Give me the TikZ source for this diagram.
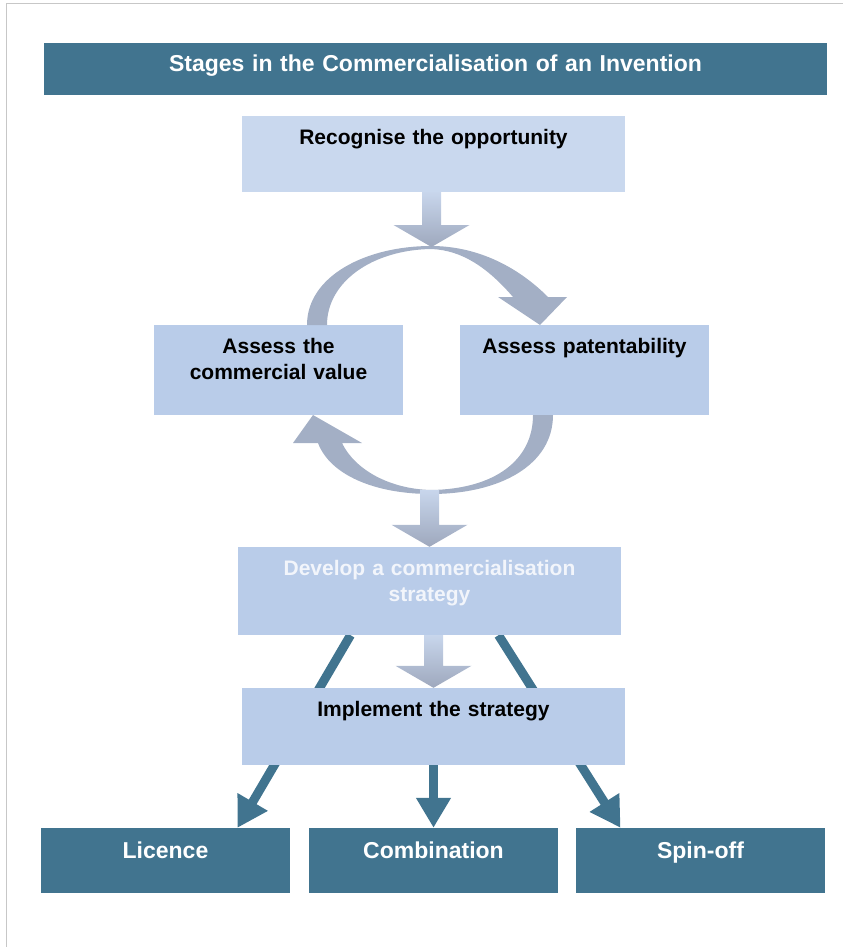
\documentclass[tikz,border=0pt]{standalone}
\usepackage{fontspec}
\setsansfont{Liberation Sans}
\usepackage{tikz}
\definecolor{stagedark}{RGB}{65,116,143}
\definecolor{stagepale}{RGB}{201,216,238}
\definecolor{stagelight}{RGB}{185,204,233}
\definecolor{stagetext}{RGB}{242,245,251}
\definecolor{flowtop}{RGB}{200,214,236}
\definecolor{flowbot}{RGB}{158,168,189}
\definecolor{loopfill}{RGB}{163,175,197}
\usetikzlibrary{arrows.meta,calc}
\pgfdeclarelayer{bg}
\pgfsetlayers{bg,main}
\tikzset{
  stage/.style = {rectangle, inner sep=0pt, align=center, text height=28pt,
    font=\sffamily\bfseries\fontsize{21}{26}\selectfont},
  stage_d/.style = {stage, fill=stagedark, text=white, text height=30pt,
    font=\sffamily\bfseries\fontsize{23}{28}\selectfont},% dark box, white text
  stage_p/.style = {stage, fill=stagepale, text=black},% first step
  stage_l/.style = {stage, fill=stagelight, text=black},
  wide/.style = {text width=383pt},
  narrow/.style = {text width=249pt},
  branch/.style = {line width=9pt, stagedark,
    -{Triangle[width=33pt,length=30pt]}},
}
% shaded block arrow pointing down onto #2
\newcommand{\flowdown}[2]{%
  \path (#1 -| #2) coordinate (flowstart);
  \shade[top color=flowtop, bottom color=flowbot]
    ($(flowstart)+(-9.5,0)$) -- ($(#2)+(-9.5,-22)$) -- ($(#2)+(-38,-22)$)
    -- (#2) -- ($(#2)+(38,-22)$) -- ($(#2)+(9.5,-22)$)
    -- ($(flowstart)+(9.5,0)$) -- cycle;}

\begin{document}
\begin{tikzpicture}[x=1pt,y=-1pt]
  \useasboundingbox (0,0) rectangle (843,947);
  \draw[black!22, line width=1pt] (6,947) -- (6,4) -- (843,4);

  \node[stage_d, text width=783pt, text height=29pt, text depth=23pt] (title)
    at (435.5,69) {Stages in the Commercialisation of an Invention};
  \node[stage_p, wide, text depth=48pt] (recog) at (433.5,154)
    {Recognise the opportunity};
  \node[stage_l, narrow, text depth=62pt] (commercial) at (278.5,370)
    {Assess the\\commercial value};
  \node[stage_l, narrow, text depth=62pt] (patent) at (584.5,370)
    {Assess patentability};
  \node[stage_l, wide, text depth=60pt, text=stagetext] (develop) at (429.5,591)
    {Develop a commercialisation\\strategy};
  \node[stage_l, wide, text depth=49pt] (implement) at (433.5,726.5)
    {Implement the strategy};
  \node[stage_d, narrow, text depth=35pt] (licence) at (165.5,860.5) {Licence};
  \node[stage_d, narrow, text depth=35pt] (combination) at (433.5,860.5) {Combination};
  \node[stage_d, narrow, text depth=35pt] (spinoff) at (700.5,860.5) {Spin-off};

  \coordinate (topmeet) at (431.5,247);
  \coordinate (botmeet) at (431.5,490);

  % routes out of the strategy
  \begin{pgfonlayer}{bg}
    \draw[branch] ([xshift=-79pt]develop.south) -- ([xshift=72pt]licence.north);
    \draw[branch] ([xshift=69pt]develop.south) -- ([xshift=-80pt]spinoff.north);
  \end{pgfonlayer}
  \draw[branch] (implement.south) -- (combination.north);

  % assessment loop
  \fill[loopfill] (307,325) .. controls (307,276) and (366,246) .. (431,246)
    .. controls (474,246) and (515,264) .. (548,297)
    -- (567,297) -- (540,325) -- (498,297) -- (513,297)
    .. controls (488,268) and (462,250) .. (431,249)
    .. controls (372,250) and (327,282) .. (327,325) -- cycle;
  \fill[loopfill] (553,415) .. controls (553,465) and (500,494) .. (431,494)
    .. controls (375,494) and (330,475) .. (318,443)
    -- (293,443) -- (313,415) -- (362,443) -- (342,443)
    .. controls (355,470) and (390,489) .. (431,490)
    .. controls (495,489) and (533,460) .. (533,415) -- cycle;

  \flowdown{recog.south}{topmeet}
  \flowdown{botmeet}{develop.north}
  \flowdown{develop.south}{implement.north}
\end{tikzpicture}
\end{document}
